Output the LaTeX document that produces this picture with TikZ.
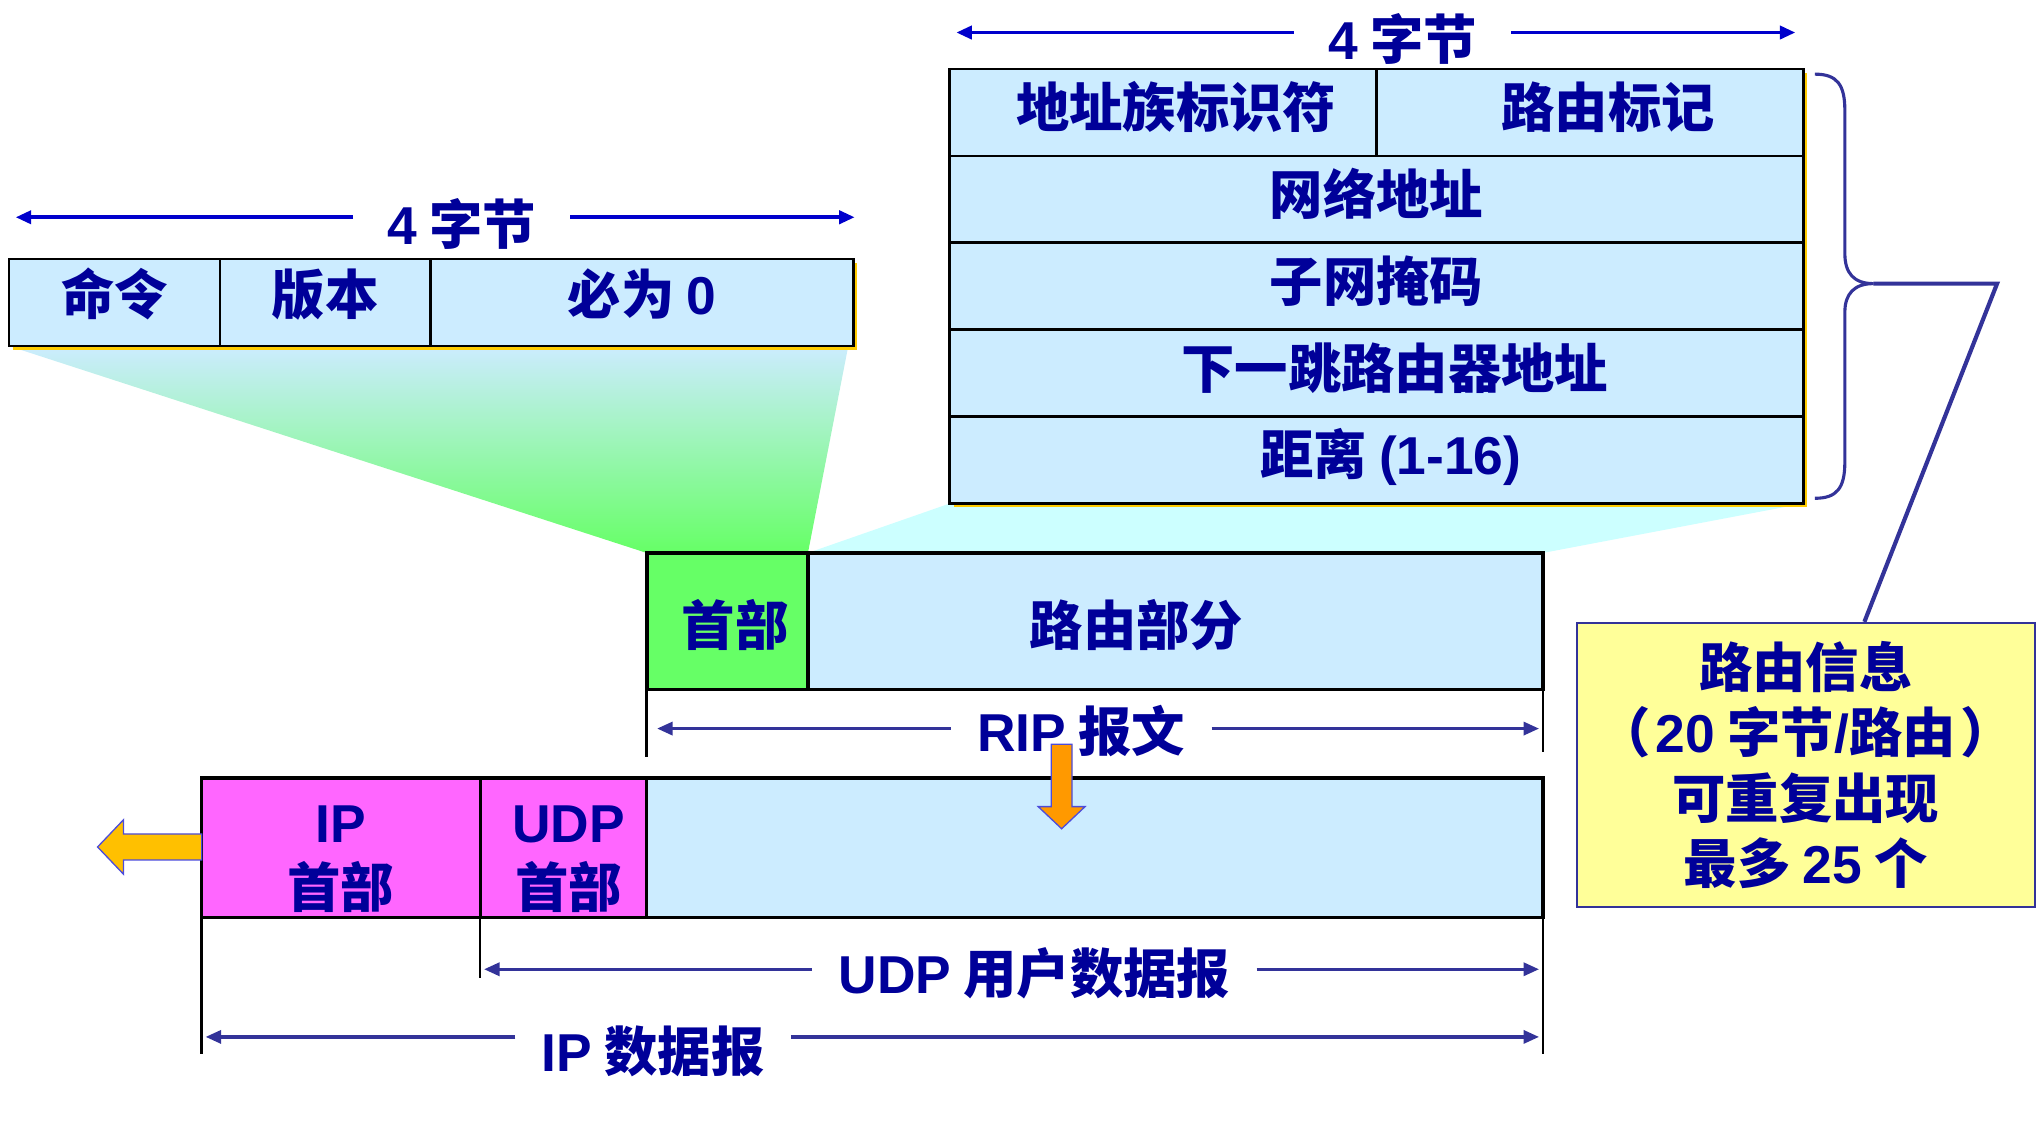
\documentclass[tikz,border=0pt]{standalone}
\usepackage{fontspec}
\newfontfamily\hei{Noto Sans CJK SC}
\newfontfamily\lat{Liberation Sans}
\usetikzlibrary{arrows.meta,backgrounds}

\definecolor{fieldblue}{HTML}{CCECFF}
\definecolor{hdrgreen}{HTML}{66FF66}
\definecolor{hdrpink}{HTML}{FF66FF}
\definecolor{notebg}{HTML}{FFFF99}
\definecolor{txtnavy}{HTML}{000099}
\definecolor{arrblue}{HTML}{0000CC}
\definecolor{arrslate}{HTML}{333399}
\definecolor{shadowgold}{HTML}{FFCC00}
\definecolor{fanfill}{HTML}{CCFFFF}
\definecolor{orangearr}{HTML}{FF9900}
\definecolor{yelarr}{HTML}{FFC000}

\newcommand\en[1]{{\lat #1}}

\tikzset{
  txt/.style={text=txtnavy, font=\hei\bfseries\fontsize{20.5pt}{25pt}\selectfont},
  cell/.style={txt, draw=black, line width=1pt, fill=fieldblue, inner sep=0pt,
    outer sep=0pt, anchor=north west},
  cellone/.style={cell, text height=16pt, text depth=4.5pt},
  dimtxt/.style={txt, inner xsep=10pt, inner ysep=0pt},
  toparrow/.style={arrblue, line width=1.5pt, -{Triangle[length=6pt,width=5pt]}},
  dimarrow/.style={arrslate, line width=1.3pt, -{Triangle[length=6pt,width=5pt]}},
  dimtick/.style={black, line width=1pt},
}

\begin{document}
\begin{tikzpicture}[x=0.5pt, y=-0.5pt]
  \useasboundingbox (0,0) rectangle (1568,881);

  % RIP header fields
  \node[cellone, text height=15pt, text depth=6pt, minimum width=81pt, minimum height=33.5pt] (cmd) at (7,199) {命令};
  \node[cellone, text height=15pt, text depth=6pt, minimum width=81pt, minimum height=33.5pt] (ver) at (cmd.north east) {版本};
  \node[cellone, text height=15pt, text depth=6pt, minimum width=162.5pt, minimum height=33.5pt] (zero) at (ver.north east) {必为 \en{0}};

  % one route entry
  \node[cellone, minimum width=164pt, minimum height=33.4pt] (afi) at (730,53) {\hspace*{10pt}地址族标识符};
  \node[cellone, minimum width=164pt, minimum height=33.4pt] (tag) at (afi.north east) {\hspace*{14pt}路由标记};
  \node[cellone, minimum width=328pt, minimum height=33.4pt] (net) at (afi.south west) {网络地址};
  \node[cellone, minimum width=328pt, minimum height=33.4pt] (mask) at (net.south west) {子网掩码};
  \node[cellone, minimum width=328pt, minimum height=33.4pt] (hop) at (mask.south west) {\hspace*{14pt}下一跳路由器地址};
  \node[cellone, minimum width=328pt, minimum height=33.4pt] (dist) at (hop.south west) {\hspace*{11pt}距离 \en{(1-16)}};

  % RIP message
  \node[cellone, text height=20pt, text depth=1.5pt, fill=hdrgreen, line width=1.5pt, minimum width=62pt, minimum height=52.5pt] (riphdr) at (497,425) {\hspace*{6pt}首部};
  \node[cellone, text height=20pt, text depth=1.5pt, line width=1.5pt, minimum width=282.5pt, minimum height=52.5pt] (ripbody) at (riphdr.north east) {路由部分\hspace*{30pt}};

  % IP datagram
  \node[cell, fill=hdrpink, line width=1.2pt, minimum width=107pt, minimum height=53.5pt, align=center] (iphdr) at (155,598) {\rule{0pt}{23pt}\en{IP}\\首部};
  \node[cell, fill=hdrpink, line width=1.2pt, minimum width=64pt, minimum height=53.5pt, align=center] (udphdr) at (iphdr.north east) {\rule{0pt}{23pt}\hspace*{4pt}\en{UDP}\\\hspace*{4pt}首部};
  \node[cell, line width=1.2pt, minimum width=344.5pt, minimum height=53.5pt] (udpdata) at (udphdr.north east) {};

  % note
  \node[txt, draw=arrslate, line width=1pt, fill=notebg, minimum width=176pt, minimum height=109pt,
    align=center, anchor=north west, inner sep=0pt] (info) at (1211,478)
    {路由信息\\（\hspace{2pt}\en{20} 字节\en{/}路由\hspace{2pt}）\\可重复出现\\最多 \en{25} 个};

  % fans and shadows
  \begin{scope}[on background layer]
    \shade[top color=fieldblue, bottom color=hdrgreen] (cmd.south west) -- ([xshift=-2pt]zero.south east)
      -- (riphdr.north east) -- (riphdr.north west) -- cycle;
    \fill[fanfill] (dist.south west) -- (dist.south east) -- (ripbody.north east) -- (ripbody.north west) -- cycle;
    \fill[shadowgold] ([shift={(3,3)}]cmd.north west) rectangle ([shift={(3,3)}]zero.south east);
    \fill[shadowgold] ([shift={(3,3)}]afi.north west) rectangle ([shift={(3,3)}]dist.south east);
  \end{scope}

  % 4 bytes, left
  \node[dimtxt, inner xsep=13pt] (bytesL) at (355,172) {\en{4} 字节};
  \coordinate (bytesLa) at (12,167);
  \coordinate (bytesLb) at (657,167);
  \draw[toparrow] (bytesL.west |- bytesLa) -- (bytesLa);
  \draw[toparrow] (bytesL.east |- bytesLb) -- (bytesLb);

  % 4 bytes, right
  \node[dimtxt, inner xsep=13pt] (bytesR) at (1078,30) {\en{4} 字节};
  \coordinate (bytesRa) at (735,25);
  \coordinate (bytesRb) at (1380,25);
  \draw[toparrow] (bytesR.west |- bytesRa) -- (bytesRa);
  \draw[toparrow] (bytesR.east |- bytesRb) -- (bytesRb);

  % brace and callout
  \coordinate (bracetip) at (1440,218);
  \coordinate (bend) at (1535,218);
  \draw[arrslate, line width=1.2pt] (1395,57) .. controls (1412,57) and (1418,65) .. (1418,85)
    -- (1418,195) .. controls (1418,210) and (1425,218) .. (bracetip)
    .. controls (1425,218) and (1418,226) .. (1418,240)
    -- (1418,355) .. controls (1418,375) and (1412,383) .. (1395,383);
  \draw[arrslate, line width=1.6pt] (bracetip) -- (bend) -- ([xshift=22.5pt]info.north);

  % RIP length
  \node[dimtxt] (riplen) at (831,562) {\en{RIP} 报文};
  \coordinate (ripa) at (505,560);
  \coordinate (ripb) at (1183,560);
  \draw[dimtick] (riphdr.south west) -- ++(0,52);
  \draw[dimtick] (ripbody.south east) -- ++(0,48);
  \draw[dimarrow] (riplen.west |- ripa) -- (ripa);
  \draw[dimarrow] (riplen.east |- ripb) -- (ripb);

  % block arrows
  \filldraw[fill=orangearr, draw=arrblue!70, line width=0.5pt] (808,572) -- (824,572) -- (824,620)
    -- (834,620) -- (816,637) -- (798,620) -- (808,620) -- cycle;
  \filldraw[fill=yelarr, draw=arrblue!70, line width=0.5pt] (155,641) -- (95,641) -- (95,630)
    -- (75,651) -- (95,672) -- (95,661) -- (155,661) -- cycle;

  % UDP and IP lengths
  \draw[dimtick] (iphdr.south west) -- ++(0,105);
  \draw[dimtick] (udphdr.south west) -- ++(0,47);
  \draw[dimtick] (udpdata.south east) -- ++(0,105);
  \node[dimtxt] (udplen) at (795,748) {\en{UDP} 用户数据报};
  \coordinate (udpa) at (372,745);
  \coordinate (udpb) at (1183,745);
  \draw[dimarrow] (udplen.west |- udpa) -- (udpa);
  \draw[dimarrow] (udplen.east |- udpb) -- (udpb);
  \node[dimtxt] (iplen) at (502,808) {\en{IP} 数据报};
  \coordinate (ipa) at (158,797);
  \coordinate (ipb) at (1183,797);
  \draw[dimarrow] (iplen.west |- ipa) -- (ipa);
  \draw[dimarrow] (iplen.east |- ipb) -- (ipb);
\end{tikzpicture}
\end{document}
